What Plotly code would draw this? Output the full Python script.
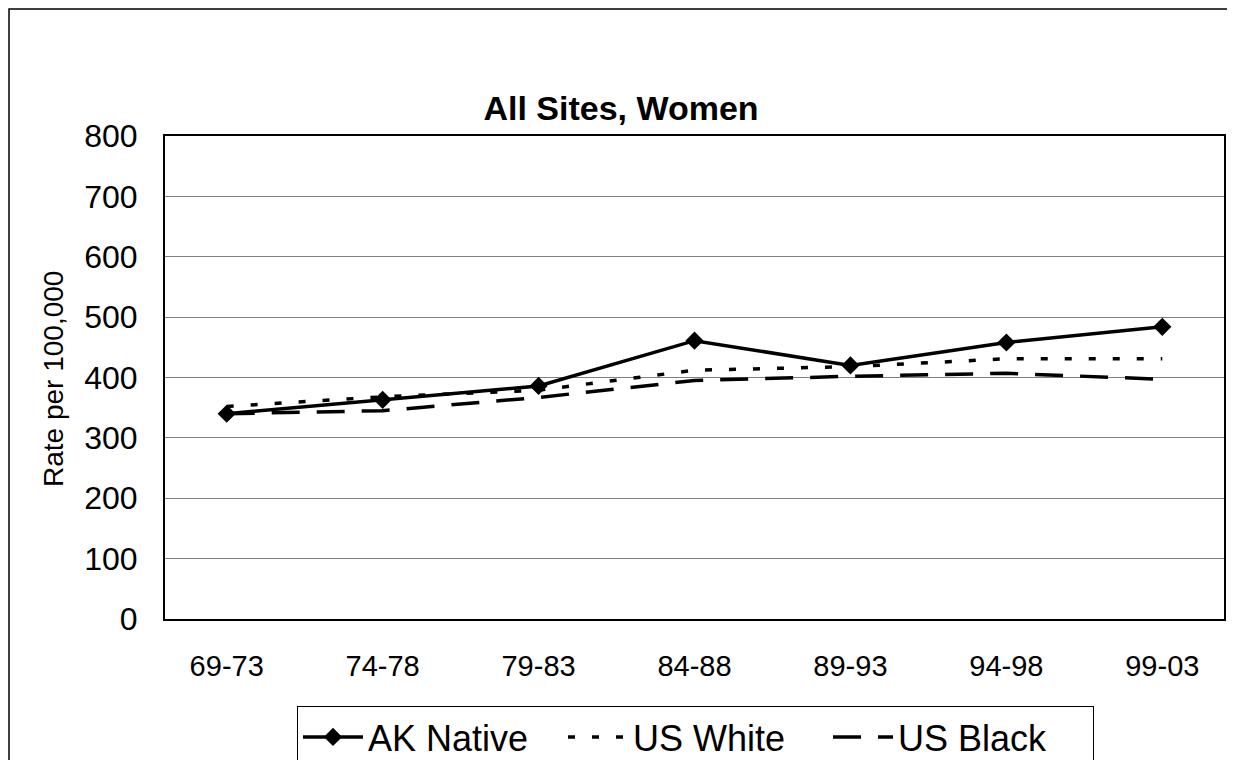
import plotly.graph_objects as go

periods = ["69-73", "74-78", "79-83", "84-88", "89-93", "94-98", "99-03"]
ak_native = [340, 363, 386, 461, 420, 458, 484]
us_white = [352, 368, 379, 412, 418, 431, 431]
us_black = [340, 345, 367, 395, 402, 407, 397]
y_ticks = [0, 100, 200, 300, 400, 500, 600, 700, 800]

FONT = "Liberation Sans, Arial, sans-serif"

fig = go.Figure()
fig.add_trace(go.Scatter(
    x=periods, y=ak_native, name="AK Native", mode="lines+markers",
    line=dict(color="black", width=3.5),
    marker=dict(symbol="diamond", size=14, color="black"),
))
fig.add_trace(go.Scatter(
    x=periods, y=us_white, name="US White", mode="lines",
    line=dict(color="black", width=3.5, dash="7px,17px"),
))
fig.add_trace(go.Scatter(
    x=periods, y=us_black, name="US Black", mode="lines",
    line=dict(color="black", width=3.5, dash="28px,17px"),
))

# page body has an 8px margin; figure drawn at (8, 8)
OFF = 8
W, H = 1235 - 2 * OFF, 768 - 2 * OFF
PL, PR, PT, PB = 165 - OFF, 1224 - OFF, 136 - OFF, 619 - OFF
pw, ph = PR - PL, PB - PT

def px_x(x):
    return (x - OFF - PL) / pw

def px_y(y):
    return (PB - (y - OFF)) / ph

fig.update_layout(
    width=W, height=H,
    margin=dict(l=PL, r=W - PR, t=PT, b=H - PB, pad=0, autoexpand=False),
    paper_bgcolor="white", plot_bgcolor="white",
    font=dict(family=FONT, color="black"),
    showlegend=True,
    title=dict(text="<b>All Sites, Women</b>", x=px_x(621), xanchor="center",
               xref="paper", yref="container", y=1 - (108 - OFF) / H, yanchor="middle",
               font=dict(size=34, family=FONT, color="black")),
    legend=dict(orientation="h", x=px_x(297), y=px_y(706), xanchor="left", yanchor="top",
                bordercolor="black", borderwidth=1, bgcolor="white",
                font=dict(size=36, family=FONT, color="black"),
                itemwidth=60, tracegroupgap=0, entrywidth=190, entrywidthmode="pixels"),
    xaxis=dict(type="category", showgrid=False, showline=True, linecolor="black", linewidth=2,
               mirror=True, ticks="", tickfont=dict(size=29, family=FONT, color="black"),
               ticklabelstandoff=20, fixedrange=True),
    yaxis=dict(range=[0, 800], tickvals=y_ticks, showgrid=True, gridcolor="#808080", gridwidth=1,
               showline=True, linecolor="black", linewidth=2, mirror=True,
               ticks="", tickfont=dict(size=32, family=FONT, color="black"),
               ticklabelstandoff=19, zeroline=False, fixedrange=True),
    annotations=[dict(text="Rate per 100,000", textangle=-90, xref="paper", yref="paper",
                      x=px_x(53), y=px_y(379), xanchor="center", yanchor="middle",
                      showarrow=False, font=dict(size=28, family=FONT, color="black"))],
    shapes=[dict(type="rect", xref="paper", yref="paper",
                 x0=px_x(9), y0=px_y(800), x1=px_x(1300), y1=px_y(9),
                 line=dict(color="black", width=1.5), fillcolor="rgba(0,0,0,0)", layer="below")],
)

fig.write_html("out.html")
